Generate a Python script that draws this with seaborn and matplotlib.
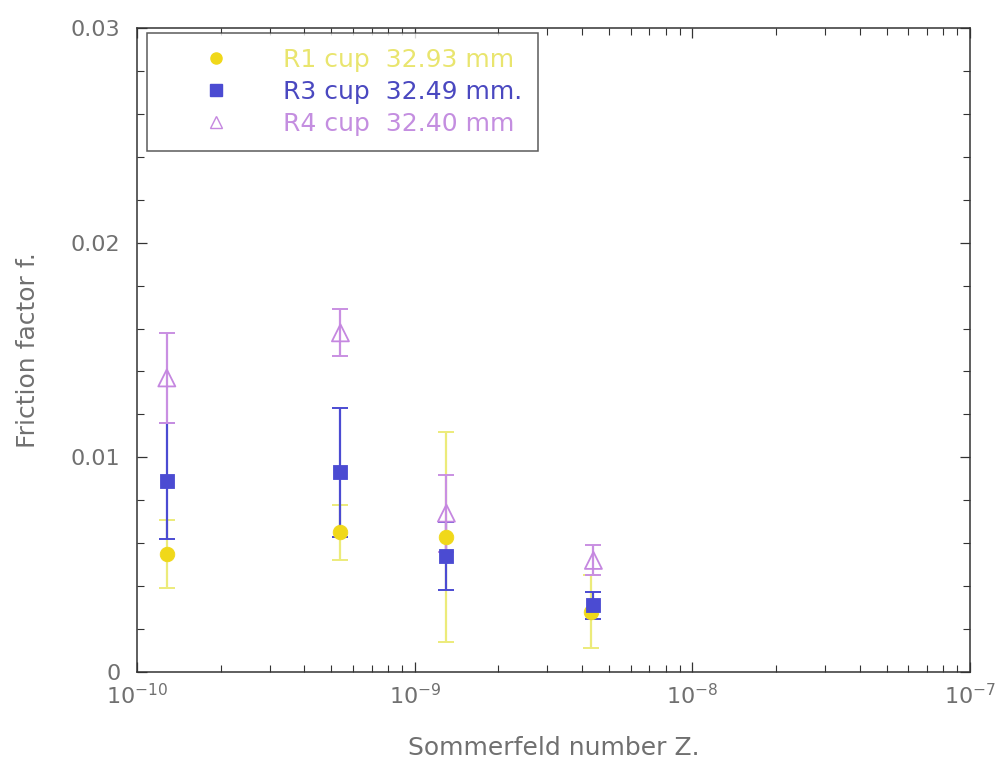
import numpy as np
import pandas as pd
import matplotlib
matplotlib.use("Agg")
import matplotlib.pyplot as plt
from matplotlib.ticker import LogLocator, MultipleLocator, FixedLocator, NullFormatter
from matplotlib.lines import Line2D
import seaborn as sns

# Sommerfeld number of each test condition
z_r1 = [1.28e-10, 5.4e-10, 1.30e-9, 4.30e-9]
z_r3 = [1.28e-10, 5.4e-10, 1.30e-9, 4.40e-9]
z_r4 = [1.28e-10, 5.4e-10, 1.30e-9, 4.40e-9]

# Friction factor (mean) and error half-widths
f_r1 = [0.0055, 0.0065, 0.0063, 0.0028]
e_r1 = [0.0016, 0.0013, 0.0049, 0.0017]
f_r3 = [0.0089, 0.0093, 0.0054, 0.0031]
e_r3 = [0.0027, 0.0030, 0.0016, 0.00065]
f_r4 = [0.0137, 0.0158, 0.0074, 0.0052]
e_r4 = [0.0021, 0.0011, 0.0018, 0.0007]

labels = ["R1 cup  32.93 mm", "R3 cup  32.49 mm.", "R4 cup  32.40 mm"]
colors = ["#f0d81a", "#4b4bd2", "#c587e0"]
bar_colors = ["#eceb7a", "#4b4bd2", "#c98fe2"]
text_colors = ["#e9e56e", "#4a48c0", "#c48ee0"]
markers = ["o", "s", "^"]

df = pd.DataFrame({
    "Z": z_r1 + z_r3 + z_r4,
    "f": f_r1 + f_r3 + f_r4,
    "err": e_r1 + e_r3 + e_r4,
    "series": [labels[0]] * 4 + [labels[1]] * 4 + [labels[2]] * 4,
})

sns.set_style("ticks")
plt.rcParams["font.family"] = ["DejaVu Sans"]

fig = plt.figure(figsize=(9.96, 7.68), dpi=100)
ax = fig.add_axes([0.1376, 0.125, 0.8364, 0.8385])

for lab, bc in zip(labels, bar_colors):
    sub = df[df["series"] == lab]
    ax.errorbar(sub["Z"], sub["f"], yerr=sub["err"], fmt="none",
                ecolor=bc, elinewidth=1.6, capsize=6, capthick=1.4, zorder=2)

for lab, col, mk in zip(labels, colors, markers):
    sub = df[df["series"] == lab]
    hollow = mk == "^"
    sns.scatterplot(data=sub, x="Z", y="f", ax=ax, marker=mk,
                    s=150 if hollow else 110,
                    color="none" if hollow else col,
                    edgecolor=col, linewidth=1.3 if hollow else 0.6,
                    zorder=3, legend=False)

ax.set_xscale("log")
ax.set_xlim(1e-10, 1e-7)
ax.set_ylim(0, 0.03)
ax.xaxis.set_major_locator(FixedLocator([1e-10, 1e-9, 1e-8, 1e-7]))
ax.xaxis.set_minor_locator(LogLocator(base=10, subs=np.arange(2, 10)))
ax.xaxis.set_minor_formatter(NullFormatter())
ax.set_xticklabels([r"$10^{-10}$", r"$10^{-9}$", r"$10^{-8}$", r"$10^{-7}$"])
ax.yaxis.set_major_locator(FixedLocator([0, 0.01, 0.02, 0.03]))
ax.set_yticklabels(["0", "0.01", "0.02", "0.03"])
ax.yaxis.set_minor_locator(MultipleLocator(0.002))

ax.tick_params(which="both", direction="in", top=True, right=True, colors="#333333",
               labelcolor="#707070", labelsize=16)
ax.tick_params(axis="y", pad=12)
ax.tick_params(axis="x", pad=8)
ax.tick_params(which="major", length=7, width=0.9)
ax.tick_params(which="minor", length=5, width=0.8)
for sp in ax.spines.values():
    sp.set_color("#333333")
    sp.set_linewidth(1.1)

ax.set_xlabel("Sommerfeld number Z.", fontsize=18, color="#707070", labelpad=20)
ax.set_ylabel("Friction factor f.", fontsize=18, color="#707070", labelpad=22)

handles = []
for lab, col, mk in zip(labels, colors, markers):
    handles.append(Line2D([], [], linestyle="none", marker=mk, markersize=8,
                          markerfacecolor=("none" if mk == "^" else col),
                          markeredgecolor=col, markeredgewidth=1.0))
leg = ax.legend(handles, labels, loc="upper left", bbox_to_anchor=(0.012, 0.992),
                fontsize=18, frameon=True, fancybox=False, borderpad=0.6,
                handletextpad=0.55, labelspacing=0.32, borderaxespad=0,
                handlelength=4.3)
leg.get_frame().set_edgecolor("#333333")
leg.get_frame().set_linewidth(1.1)
for txt, tc in zip(leg.get_texts(), text_colors):
    txt.set_color(tc)

fig.savefig("out.png", dpi=100, facecolor="white")
